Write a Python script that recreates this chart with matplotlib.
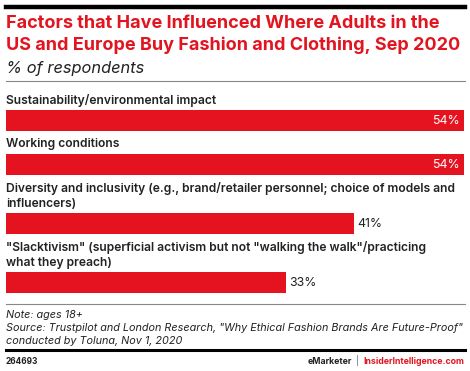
import matplotlib
matplotlib.use("Agg")
import matplotlib.pyplot as plt

# data
categories = [
    "Sustainability/environmental impact",
    "Working conditions",
    "Diversity and inclusivity (e.g., brand/retailer personnel; choice of models and\ninfluencers)",
    "\"Slacktivism\" (superficial activism but not \"walking the walk\"/practicing\nwhat they preach)",
]
values = [54, 54, 41, 33]

title = "Factors that Have Influenced Where Adults in the\nUS and Europe Buy Fashion and Clothing, Sep 2020"
subtitle = "% of respondents"
note_lines = [
    "Note: ages 18+",
    "Source: Trustpilot and London Research, \"Why Ethical Fashion Brands Are Future-Proof\"",
    "conducted by Toluna, Nov 1, 2020",
]
chart_id = "264693"

W, H = 470, 371
RED = "#e5131f"
TITLE_RED = "#e2141f"
TXT = "#222222"
FONT = "Inter"

fig = plt.figure(figsize=(W / 100, H / 100), dpi=100)
fig.patch.set_facecolor("white")

# one axes over the full height, x in data units, y in pixels from top
left, right = 6, 464
ax = fig.add_axes([left / W, 0, (right - left) / W, 1])
ax.set_xlim(0, max(values))
ax.set_ylim(H, 0)
ax.axis("off")


def fx(px):
    return px / W


def fy(py):
    return 1 - py / H


# header rules and title
fig.add_artist(plt.Line2D([fx(6), fx(465)], [fy(7), fy(7)], color="black", lw=3.2))
fig.text(fx(6), fy(34.5), title, color=TITLE_RED, fontsize=13.0, fontweight="bold",
         family=FONT, va="center", ha="left", linespacing=1.32)
fig.text(fx(6), fy(69), subtitle, color=TXT, fontsize=11.8, style="italic",
         family=FONT, va="center", ha="left")
fig.add_artist(plt.Line2D([fx(6), fx(465)], [fy(81), fy(81)], color="#888888", lw=0.8))

# bars with labels above
y = 94
line_h = 15
bar_h = 21
for cat, val in zip(categories, values):
    n = cat.count("\n") + 1
    ax.text(0, y, cat, fontsize=8.7, fontweight="semibold", family=FONT, color=TXT,
            va="top", ha="left", linespacing=1.38)
    y += n * line_h + 1
    ax.barh(y + bar_h / 2, val, height=bar_h, left=0, color=RED, edgecolor="none")
    if val == max(values):
        ax.text(val - 0.5, y + bar_h / 2 + 0.5, f"{val}%", color="white", fontsize=8.9,
                family=FONT, va="center", ha="right")
    else:
        ax.text(val + 0.4, y + bar_h / 2 + 0.5, f"{val}%", color=TXT, fontsize=8.9,
                family=FONT, va="center", ha="left")
    y += bar_h + 7

# footer
fig.add_artist(plt.Line2D([fx(6), fx(465)], [fy(304), fy(304)], color="#888888", lw=0.8))
for i, line in enumerate(note_lines):
    fig.text(fx(6), fy(315 + i * 13), line, color=TXT, fontsize=7.8, style="italic",
             family=FONT, va="center", ha="left")
fig.add_artist(plt.Line2D([fx(6), fx(465)], [fy(350), fy(350)], color="black", lw=2.2))
fig.text(fx(6), fy(361), chart_id, color=TXT, fontsize=6.0, fontweight="bold",
         family=FONT, va="center", ha="left")
t1 = fig.text(fx(464), fy(361), "InsiderIntelligence.com", color=TITLE_RED, fontsize=6.3,
              fontweight="bold", family=FONT, va="center", ha="right")
fig.canvas.draw()
bb = t1.get_window_extent()
x0 = bb.x0 / W
t2 = fig.text(x0 - fx(4), fy(361), "|", color="#555555", fontsize=6.3,
              family=FONT, va="center", ha="right")
bb2 = t2.get_window_extent()
fig.text(bb2.x0 / W - fx(4), fy(361), "eMarketer", color=TXT, fontsize=6.3,
         fontweight="bold", family=FONT, va="center", ha="right")

fig.savefig("out.png", dpi=100, facecolor="white")
